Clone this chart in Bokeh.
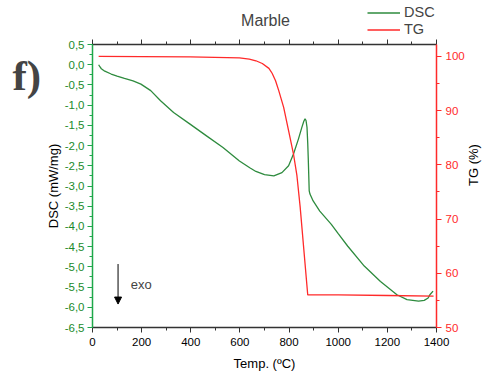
import math
import numpy as np
from bokeh.plotting import figure
from bokeh.layouts import column, row
from bokeh.models import (Range1d, LinearAxis, FixedTicker, CustomJSTickFormatter,
                          Legend, LegendItem, Label, Arrow, NormalHead)
from bokeh.embed import file_html
from bokeh.resources import INLINE

# ---- data ----
dsc_temp = [25, 30, 36, 50, 76, 100, 130, 165, 197, 237, 277, 330, 397, 464, 531, 598,
            640, 665, 700, 738, 771, 798, 818, 838, 852, 860, 865, 869, 873, 876, 878,
            882, 885, 892, 898, 925, 972, 1000, 1039, 1106, 1172, 1239, 1280, 1327,
            1350, 1366, 1373, 1386]
dsc_val = [0.0, -0.05, -0.10, -0.16, -0.23, -0.28, -0.34, -0.40, -0.48, -0.64, -0.89,
           -1.18, -1.47, -1.76, -2.05, -2.38, -2.55, -2.64, -2.72, -2.75, -2.67, -2.50,
           -2.21, -1.84, -1.55, -1.40, -1.34, -1.38, -1.55, -1.95, -2.30, -3.12, -3.20,
           -3.29, -3.37, -3.62, -3.95, -4.18, -4.49, -4.98, -5.36, -5.69, -5.81, -5.85,
           -5.83, -5.77, -5.69, -5.60]

tg_temp = [25, 200, 397, 598, 638, 665, 691, 718, 731, 745, 758, 778, 798, 818, 832,
           845, 876, 1000, 1200, 1388]
tg_val = [100.0, 99.95, 99.9, 99.75, 99.5, 99.2, 98.7, 97.8, 96.9, 95.5, 93.7, 90.6,
          86.3, 82.0, 78.0, 72.3, 56.0, 56.0, 55.9, 55.8]

x_ticks = [0, 200, 400, 600, 800, 1000, 1200, 1400]
dsc_ticks = [-6.5, -6.0, -5.5, -5.0, -4.5, -4.0, -3.5, -3.0, -2.5, -2.0, -1.5, -1.0,
             -0.5, 0.0, 0.5]
tg_ticks = [50, 60, 70, 80, 90, 100]

title_text = "Marble"
panel_tag = "f)"
series_names = ["DSC", "TG"]

GREEN_LINE = "#2e8b3e"
GREEN_AXIS = "#1fa84a"
GREEN_TEXT = "#1a8a2a"
RED = "#ff2a2a"
FONT = "Liberation Sans"

TOP_H = 36
TAG_W = 42
W, H = 491, 375


def bare(fig):
    fig.outline_line_color = None
    fig.grid.visible = False
    fig.background_fill_color = "white"
    fig.border_fill_color = "white"


# ---- header strip: title + legend ----
head = figure(width=W, height=TOP_H, output_backend="svg", toolbar_location=None,
              x_range=Range1d(0, W), y_range=Range1d(TOP_H, 0),
              min_border_left=0, min_border_right=0, min_border_top=0, min_border_bottom=0,
              x_axis_location=None, y_axis_location=None)
bare(head)
head.add_layout(Label(x=265, y=20, text=title_text, text_font=FONT, text_font_size="16px",
                      text_align="center", text_baseline="middle"))
nan_pt = np.array([np.nan])
proxy_dsc = head.line(x=nan_pt, y=nan_pt, line_color=GREEN_LINE, line_width=1.3)
proxy_tg = head.line(x=nan_pt, y=nan_pt, line_color=RED, line_width=1.3)
legend = Legend(items=[LegendItem(label=series_names[0], renderers=[proxy_dsc]),
                       LegendItem(label=series_names[1], renderers=[proxy_tg])],
                location=(367, -1.5), orientation="vertical",
                background_fill_alpha=0, border_line_color=None,
                padding=0, margin=0, spacing=0,
                glyph_width=33, glyph_height=17, label_height=17,
                label_standoff=4, label_text_font=FONT, label_text_font_size="14.5px")
head.add_layout(legend, "center")

# ---- left strip: panel tag ----
tag = figure(width=TAG_W, height=H - TOP_H, output_backend="svg", toolbar_location=None,
             x_range=Range1d(0, TAG_W), y_range=Range1d(H - TOP_H, 0),
             min_border_left=0, min_border_right=0, min_border_top=0, min_border_bottom=0,
             x_axis_location=None, y_axis_location=None)
bare(tag)
tag.add_layout(Label(x=12, y=37, text=panel_tag, text_font="Liberation Serif",
                     text_font_size="43px", text_font_style="bold",
                     text_baseline="alphabetic"))

# ---- main chart ----
p = figure(width=W - TAG_W, height=H - TOP_H, output_backend="svg", toolbar_location=None,
           x_range=Range1d(0, 1400), y_range=Range1d(-6.5, 0.5),
           min_border_left=91 - TAG_W, min_border_right=51, min_border_top=44 - TOP_H,
           min_border_bottom=48, x_axis_location=None, y_axis_location=None)
bare(p)
p.extra_y_ranges = {"tg": Range1d(50, 102.2)}


def style(ax, color, text_color):
    ax.axis_line_color = color
    ax.axis_line_width = 1.5
    ax.major_tick_line_color = color
    ax.minor_tick_line_color = color
    ax.major_tick_out = 5
    ax.major_tick_in = 0
    ax.minor_tick_out = 3
    ax.minor_tick_in = 0
    ax.major_label_text_color = text_color
    ax.major_label_text_font = FONT
    ax.major_label_text_font_size = "11.5px"
    ax.axis_label_text_font = FONT
    ax.axis_label_text_font_size = "13px"
    ax.axis_label_text_font_style = "normal"
    ax.axis_label_text_color = "black"


xminor = list(range(0, 1401, 100))
bottom = LinearAxis(ticker=FixedTicker(ticks=x_ticks, minor_ticks=xminor),
                    axis_label="Temp. (ºC)")
style(bottom, "#333333", "black")
bottom.major_label_standoff = 5
bottom.axis_label_standoff = 7
p.add_layout(bottom, "below")

top = LinearAxis(ticker=FixedTicker(ticks=x_ticks, minor_ticks=xminor))
style(top, "#333333", "black")
top.major_label_text_font_size = "0px"
top.major_label_standoff = 0
p.add_layout(top, "above")

dminor = [-6.5 + 0.25 * i for i in range(29)]
left = LinearAxis(ticker=FixedTicker(ticks=dsc_ticks, minor_ticks=dminor),
                  axis_label="DSC (mW/mg)",
                  formatter=CustomJSTickFormatter(code="return tick.toFixed(1).replace('.', ',');"))
style(left, GREEN_AXIS, GREEN_TEXT)
left.major_label_standoff = 3
left.axis_label_standoff = 1
p.add_layout(left, "left")

tminor = list(range(50, 101, 5))
right = LinearAxis(y_range_name="tg", ticker=FixedTicker(ticks=tg_ticks, minor_ticks=tminor),
                   axis_label="TG (%)")
style(right, RED, RED)
right.major_label_standoff = 4
right.axis_label_standoff = 6
right.axis_label_orientation = math.pi / 2
p.add_layout(right, "right")

p.line(dsc_temp, dsc_val, line_color=GREEN_LINE, line_width=1.3)
p.line(tg_temp, tg_val, line_color=RED, line_width=1.3, y_range_name="tg")

p.add_layout(Label(x=156, y=-5.43, text="exo", text_font=FONT, text_font_size="13px",
                   text_baseline="middle"))
p.add_layout(Arrow(x_start=104, y_start=-4.93, x_end=104, y_end=-5.92, line_width=1,
                   end=NormalHead(size=7, fill_color="black", line_color="black")))

layout = column(head, row(tag, p, spacing=0), spacing=0)
open("out.html", "w").write(file_html(layout, INLINE))
